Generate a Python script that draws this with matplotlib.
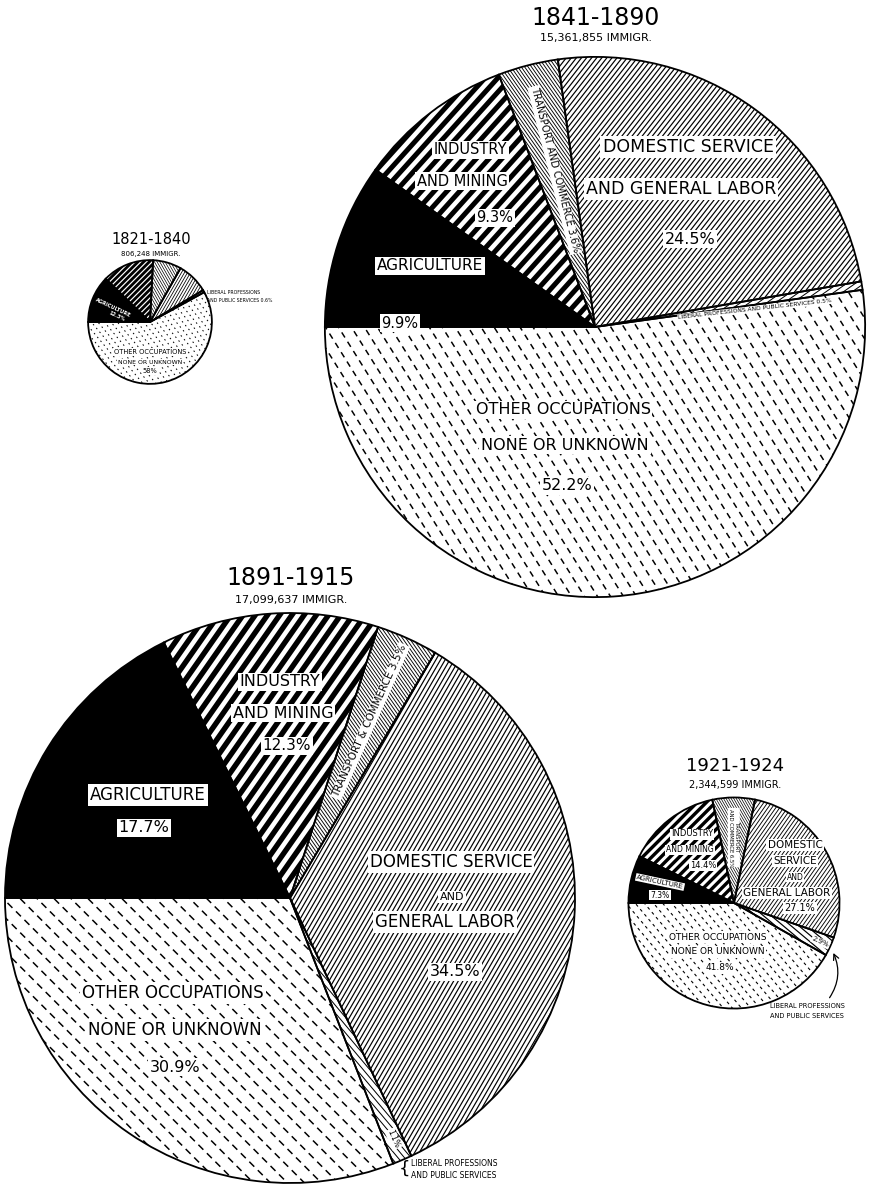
import numpy as np
import matplotlib
matplotlib.use('Agg')
import matplotlib.pyplot as plt
from matplotlib.collections import LineCollection


# data: share of immigrants by occupation (percent)
# order: other/unknown, liberal professions, domestic service, transport, industry, agriculture
periods = ['1821-1840', '1841-1890', '1891-1915', '1921-1924']
immigrants = [806248, 15361855, 17099637, 2344599]
share_1821 = [58.0, 0.6, 8.2, 7.4, 13.5, 12.3]
share_1841 = [52.2, 0.5, 24.5, 3.6, 9.3, 9.9]
share_1891 = [30.9, 1.1, 34.5, 3.5, 12.3, 17.7]
share_1921 = [41.8, 2.9, 27.1, 6.5, 14.4, 7.3]

W, H = 871, 1188
PX = 0.72          # points per pixel at dpi 100
R_MAX = 285        # radius of the largest circle, pixels

plt.rcParams['lines.scale_dashes'] = False
plt.rcParams['font.family'] = 'DejaVu Sans'

fig = plt.figure(figsize=(W / 100, H / 100), dpi=100)
ax = fig.add_axes([0, 0, 1, 1])


def stripes(wedge, cx, cy, r, angle, spacing, lw, dash=None):
    '''
    fill a wedge with parallel (optionally dashed) lines clipped to it
    '''
    t = np.radians(angle)
    u = np.array([np.cos(t), np.sin(t)])
    n = np.array([-u[1], u[0]])
    segs = []
    for d in np.arange(-r * 1.05, r * 1.05, spacing):
        p = np.array([cx, cy]) + d * n
        segs.append([p - 1.05 * r * u, p + 1.05 * r * u])
    if dash:
        a, b = dash[0] * PX, dash[1] * PX
        ls = [(0 if i % 2 == 0 else (a + b) / 2, (a, b)) for i in range(len(segs))]
    else:
        ls = 'solid'
    lc = LineCollection(segs, colors='black', linewidths=lw * PX, linestyles=ls,
                        zorder=2, capstyle='butt')
    ax.add_collection(lc)
    lc.set_clip_path(wedge)


def draw_pie(shares, n, cx, cy, styles):
    r = R_MAX * np.sqrt(n / max(immigrants))
    y = H - cy
    faces = ['white'] * 5 + ['black']
    wedges, _ = ax.pie(shares, startangle=180, counterclock=True, center=(cx, y),
                       radius=r, colors=faces, wedgeprops=dict(linewidth=0, zorder=1))
    for w, st in zip(wedges, styles):
        if st:
            stripes(w, cx, y, r, *st)
    ax.pie(shares, startangle=180, counterclock=True, center=(cx, y), radius=r,
           wedgeprops=dict(fill=False, edgecolor='black', linewidth=1.3, zorder=3))
    return r, wedges


def txt(x, y, s, size, rot=0, box=True, color='black', ha='center', weight='normal'):
    bb = dict(boxstyle='square,pad=0.12', facecolor='white', edgecolor='none') if box else None
    ax.text(x, H - y, s, fontsize=size, rotation=rot, ha=ha, va='center', color=color,
            bbox=bb, zorder=5, rotation_mode='anchor', fontweight=weight)


def along(wedges, i, cx, cy, r, frac):
    '''
    point and angle in the middle of wedge i
    '''
    w = wedges[i]
    mid = (w.theta1 + w.theta2) / 2.
    a = np.radians(mid)
    return cx + frac * r * np.cos(a), cy - frac * r * np.sin(a), mid


# ---------------- 1841-1890 ----------------
cx, cy = 595, 327
styles = [(-58, 11, 1.5, (6, 5)), (35, 5, 1.0), (52, 4.0, 1.2),
          (-55, 2.8, 0.9), (48, 9.5, 5.0), None]
r, wd = draw_pie(share_1841, immigrants[1], cx, cy, styles)
txt(596, 18, periods[1], 17, box=False)
txt(596, 38, '15,361,855 IMMIGR.', 8, box=False)
txt(470, 150, 'INDUSTRY', 10.5)
txt(462, 181, 'AND MINING', 10.5)
txt(495, 218, '%.1f%%' % share_1841[4], 10.5)
txt(688, 147, 'DOMESTIC SERVICE', 12.5)
txt(681, 189, 'AND GENERAL LABOR', 12.5)
txt(690, 239, '%.1f%%' % share_1841[2], 11.5)
x, y, m = along(wd, 3, cx, cy, r, 0.6)
txt(x, y, 'TRANSPORT AND COMMERCE %.1f%%' % share_1841[3], 7, rot=m - 180)
txt(430, 266, 'AGRICULTURE', 11)
txt(400, 323, '%.1f%%' % share_1841[5], 10.5)
x, y, m = along(wd, 1, cx, cy, r, 0.6)
txt(x, y + 7, 'LIBERAL PROFESSIONS AND PUBLIC SERVICES %.1f%%' % share_1841[1], 4.3,
    rot=m - 2.5)
txt(563, 410, 'OTHER OCCUPATIONS', 11.5)
txt(565, 445, 'NONE OR UNKNOWN', 11.5)
txt(567, 486, '%.1f%%' % share_1841[0], 11.5)

# ---------------- 1891-1915 ----------------
cx, cy = 290, 898
styles = [(-45, 12, 1.5, (7, 5)), (-50, 5, 1.0), (60, 4.0, 1.2),
          (-55, 2.8, 0.9), (55, 10, 5.4), None]
r, wd = draw_pie(share_1891, immigrants[2], cx, cy, styles)
txt(291, 578, periods[2], 17, box=False)
txt(291, 600, '17,099,637 IMMIGR.', 8, box=False)
txt(280, 682, 'INDUSTRY', 11.5)
txt(283, 713, 'AND MINING', 11.5)
txt(287, 746, '%.1f%%' % share_1891[4], 11)
txt(148, 795, 'AGRICULTURE', 12)
txt(144, 828, '%.1f%%' % share_1891[5], 11.5)
x, y, m = along(wd, 3, cx, cy, r, 0.68)
txt(x, y, 'TRANSPORT & COMMERCE %.1f%%' % share_1891[3], 7.5, rot=m)
txt(451, 862, 'DOMESTIC SERVICE', 12)
txt(452, 897, 'AND', 8)
txt(445, 922, 'GENERAL LABOR', 12)
txt(455, 972, '%.1f%%' % share_1891[2], 11.5)
txt(173, 993, 'OTHER OCCUPATIONS', 12)
txt(175, 1030, 'NONE OR UNKNOWN', 12)
txt(175, 1067, '%.1f%%' % share_1891[0], 11.5)
x, y, m = along(wd, 1, cx, cy, r, 0.92)
txt(x, y, '%.1f%%' % share_1891[1], 5.5, rot=m - 360)
txt(404, 1169, '{', 13, box=False)
txt(411, 1163, 'LIBERAL PROFESSIONS', 5.5, box=False, ha='left')
txt(411, 1175, 'AND PUBLIC SERVICES', 5.5, box=False, ha='left')

# ---------------- 1921-1924 ----------------
cx, cy = 734, 903
styles = [(-50, 7, 1.1, (3, 3.5)), (-40, 5, 1.2), (55, 3.2, 0.9),
          (-60, 2.2, 0.7), (45, 6.5, 3.4), None]
r, wd = draw_pie(share_1921, immigrants[3], cx, cy, styles)
txt(735, 766, periods[3], 13, box=False)
txt(735, 785, '2,344,599 IMMIGR.', 7, box=False)
txt(692, 834, 'INDUSTRY', 6)
txt(690, 850, 'AND MINING', 5.5)
txt(703, 865, '%.1f%%' % share_1921[4], 6)
txt(660, 882, 'AGRICULTURE', 5, rot=-12)
txt(660, 895, '%.1f%%' % share_1921[5], 5.5)
x, y, m = along(wd, 3, cx, cy, r, 0.62)
txt(x, y, 'TRANSPORT\nAND COMMERCE %.1f%%' % share_1921[3], 3.8, rot=m - 180)
txt(795, 845, 'DOMESTIC', 7.5)
txt(795, 861, 'SERVICE', 7.5)
txt(795, 877, 'AND', 5.5)
txt(787, 893, 'GENERAL LABOR', 7.5)
txt(800, 908, '%.1f%%' % share_1921[2], 7)
x, y, m = along(wd, 1, cx, cy, r, 0.9)
txt(x, y, '%.1f%%' % share_1921[1], 5, rot=m - 360)
txt(718, 937, 'OTHER OCCUPATIONS', 6.5)
txt(718, 952, 'NONE OR UNKNOWN', 6.5)
txt(720, 968, '%.1f%%' % share_1921[0], 6.5)
x, y, m = along(wd, 1, cx, cy, r, 1.0)
ax.annotate('', xy=(x + 2, H - y - 4), xytext=(828, H - 1000),
            arrowprops=dict(arrowstyle='->', color='black', lw=0.9,
                            connectionstyle='arc3,rad=0.3'), zorder=5)
txt(770, 1006, 'LIBERAL PROFESSIONS', 4.8, box=False, ha='left')
txt(770, 1016, 'AND PUBLIC SERVICES', 4.8, box=False, ha='left')

# ---------------- 1821-1840 ----------------
cx, cy = 150, 322
styles = [(-50, 5, 1.0, (1.5, 3.5)), (30, 3, 0.6), (60, 2.6, 0.8),
          (-60, 2.3, 0.7), (45, 4, 2.8), None]
r, wd = draw_pie(share_1821, immigrants[0], cx, cy, styles)
txt(151, 240, periods[0], 10.5, box=False)
txt(151, 254, '806,248 IMMIGR.', 5, box=False)
txt(113, 308, 'AGRICULTURE', 3.6, rot=-25, box=False, color='white', weight='bold')
txt(117, 316, '%.1f%%' % share_1821[5], 3.6, rot=-25, box=False, color='white', weight='bold')
txt(150, 352, 'OTHER OCCUPATIONS', 4.8)
txt(150, 362, 'NONE OR UNKNOWN', 4.4)
txt(150, 371, '%d%%' % share_1821[0], 4.8)
x, y, m = along(wd, 1, cx, cy, r, 1.0)
ax.plot([x, 206], [H - y, H - 296], color='black', lw=0.6, zorder=5)
txt(207, 293, 'LIBERAL PROFESSIONS', 3.3, box=False, ha='left')
txt(207, 300, 'AND PUBLIC SERVICES %.1f%%' % share_1821[1], 3.3, box=False, ha='left')

ax.set_xlim(0, W)
ax.set_ylim(0, H)
ax.set_aspect('equal')
ax.axis('off')
fig.savefig('out.png', dpi=100, facecolor='white')
